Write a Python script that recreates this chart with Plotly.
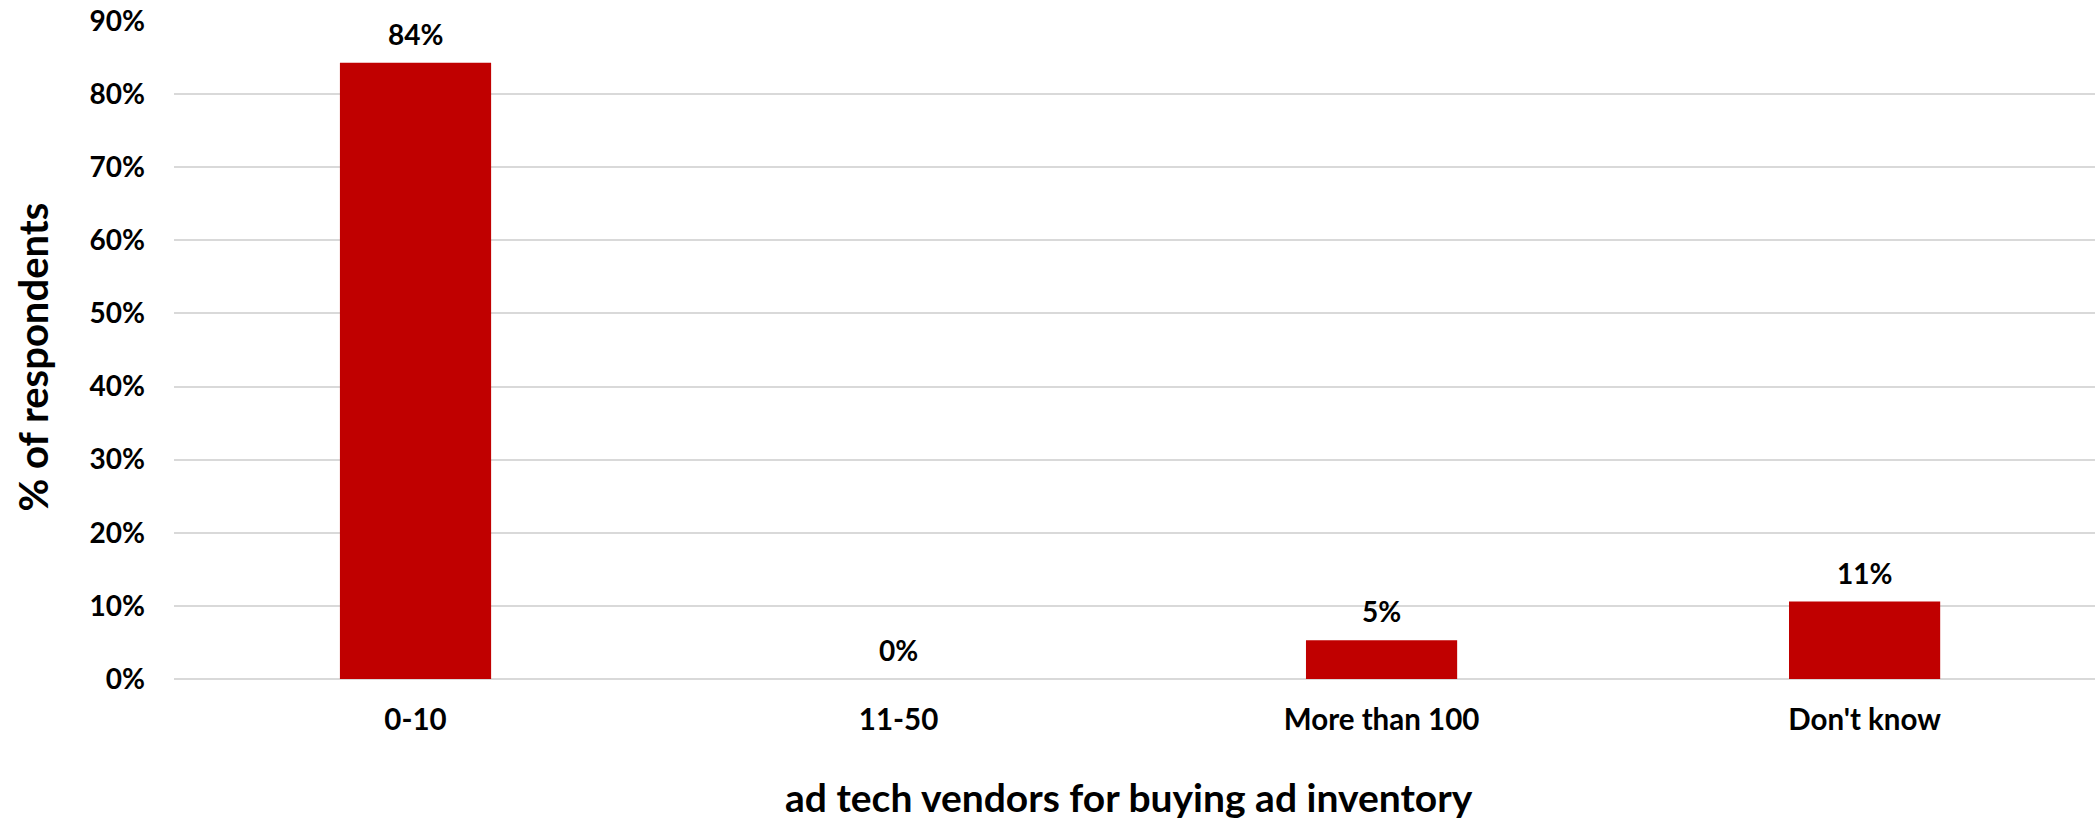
import plotly.graph_objects as go

categories = ["0-10", "11-50", "More than 100", "Don't know"]
values = [84.3, 0.0, 5.3, 10.6]
y_ticks = [0, 10, 20, 30, 40, 50, 60, 70, 80, 90]
x_title = "ad tech vendors for buying ad inventory"
y_title = "% of respondents"

FONT = "Lato"
BAR_COLOR = "#C00000"
GRID = "#d9d9d9"

fig = go.Figure()
fig.add_trace(go.Bar(
    x=categories, y=values,
    marker=dict(color=BAR_COLOR, line=dict(width=0)),
    hoverinfo="skip",
))

for c, v in zip(categories, values):
    fig.add_annotation(
        x=c, y=v, xref="x", yref="y",
        text=f"{v:.0f}%", showarrow=False,
        yshift=29, yanchor="middle",
        font=dict(family=FONT, size=28, color="#000000", weight="bold"),
    )

fig.add_annotation(
    x=0.497, y=-0.180, xref="paper", yref="paper",
    text=x_title, showarrow=False, xanchor="center", yanchor="middle",
    font=dict(family=FONT, size=39, color="#000000", weight="bold"),
)
fig.add_annotation(
    x=-0.0735, y=0.490, xref="paper", yref="paper",
    text=y_title, showarrow=False, textangle=-90,
    xanchor="center", yanchor="middle",
    font=dict(family=FONT, size=40, color="#000000", weight="bold"),
)

fig.update_layout(
    width=2095, height=825,
    margin=dict(l=174, r=0, t=21, b=146),
    paper_bgcolor="white", plot_bgcolor="white",
    bargap=0.687,
    showlegend=False,
    font=dict(family=FONT, size=28, color="#000000", weight="bold"),
)
fig.update_xaxes(
    range=[-0.5, 3.477],
    showgrid=False, showline=False, zeroline=False,
    ticks="", ticklabelstandoff=20,
    tickfont=dict(family=FONT, size=29.5, color="#000000", weight="bold"),
)
fig.update_yaxes(
    range=[0, 90],
    tickvals=y_ticks, ticktext=[f"{t}%" for t in y_ticks],
    showgrid=True, gridcolor=GRID, gridwidth=2,
    zeroline=True, zerolinecolor=GRID, zerolinewidth=2,
    showline=False, ticks="", ticklabelstandoff=28,
    tickfont=dict(family=FONT, size=28, color="#000000", weight="bold"),
)

fig.write_html("out.html")
